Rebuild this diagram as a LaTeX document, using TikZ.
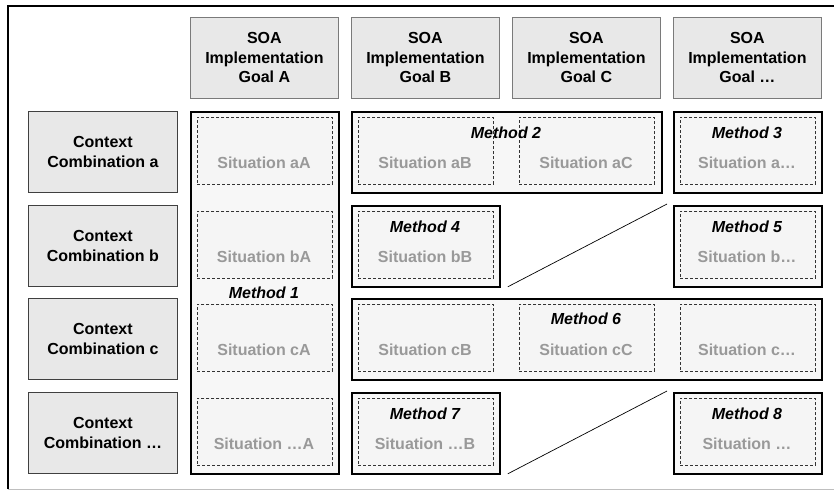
\documentclass[tikz,border=0pt]{standalone}
\usepackage{fontspec}
\setmainfont{Liberation Sans}
\definecolor{hfill}{HTML}{E8E8E8}
\definecolor{mfill}{HTML}{F7F7F7}
\definecolor{sfill}{HTML}{F5F5F5}
\definecolor{stxt}{HTML}{999999}
\definecolor{hdraw}{HTML}{7A7A7A}
\newcommand{\mysit}[4]{%
  \node[sitbox] (#1) at (#2+7,#3+6) {};
  \node[sittext] (#1t) at (#2+74,#3+52) {#4};
}
\begin{document}
\begin{tikzpicture}[x=1pt,y=-1pt,
  basefont/.style={font=\fontsize{16}{19.5}\selectfont\bfseries},
  hdr/.style={basefont, draw=hdraw, line width=0.8pt, fill=hfill, minimum width=148pt, minimum height=81pt, anchor=north west, inner sep=0pt, align=center},
  ctx/.style={hdr, draw=black!75, minimum width=149pt},
  methbox/.style={draw=black, line width=1.8pt, fill=mfill, minimum height=81pt, anchor=north west, inner sep=0pt},
  sitbox/.style={draw=black!80, dash pattern=on 3pt off 2pt, line width=0.8pt, fill=sfill, minimum width=135pt, minimum height=67pt, anchor=north west, inner sep=0pt},
  sittext/.style={basefont, text=stxt, inner sep=0pt},
  mlab/.style={font=\fontsize{16}{19.5}\selectfont\bfseries\itshape, inner sep=0pt},
  diag/.style={draw=black, line width=0.7pt}
]
\useasboundingbox (0,0) rectangle (834,500);
% outer frame
\draw[line width=1.5pt] (8,489) -- (8,6) -- (834,6);
\draw[line width=1pt, black!25] (8,489) -- (834,489);

% column headers
\node[hdr] (gA) at (190,17) {SOA\\Implementation\\Goal A};
\node[hdr] (gB) at (351,17) {SOA\\Implementation\\Goal B};
\node[hdr] (gC) at (512,17) {SOA\\Implementation\\Goal C};
\node[hdr] (gD) at (673,17) {SOA\\Implementation\\Goal …};

% row headers
\node[ctx] (ca) at (28,111) {Context\\Combination a};
\node[ctx] (cb) at (28,205) {Context\\Combination b};
\node[ctx] (cc) at (28,298) {Context\\Combination c};
\node[ctx] (cd) at (28,392) {Context\\Combination …};

% method boxes
\node[methbox, minimum width=148pt, minimum height=362pt] (m1) at (190,111) {};
\node[methbox, minimum width=310pt] (m2) at (351,111) {};
\node[methbox, minimum width=148pt] (m3) at (673,111) {};
\node[methbox, minimum width=148pt] (m4) at (351,205) {};
\node[methbox, minimum width=148pt] (m5) at (673,205) {};
\node[methbox, minimum width=470pt] (m6) at (351,298) {};
\node[methbox, minimum width=148pt] (m7) at (351,392) {};
\node[methbox, minimum width=148pt] (m8) at (673,392) {};

% situations
\mysit{saA}{190}{111}{Situation aA}
\mysit{saB}{351}{111}{Situation aB}
\mysit{saC}{512}{111}{Situation aC}
\mysit{saD}{673}{111}{Situation a…}
\mysit{sbA}{190}{205}{Situation bA}
\mysit{sbB}{351}{205}{Situation bB}
\mysit{sbD}{673}{205}{Situation b…}
\mysit{scA}{190}{298}{Situation cA}
\mysit{scB}{351}{298}{Situation cB}
\mysit{scC}{512}{298}{Situation cC}
\mysit{scD}{673}{298}{Situation c…}
\mysit{sdA}{190}{392}{Situation …A}
\mysit{sdB}{351}{392}{Situation …B}
\mysit{sdD}{673}{392}{Situation …}

% method labels
\node[mlab] (l1) at (264,293) {Method 1};
\node[mlab] (l2) at (506,133) {Method 2};
\node[mlab] (l3) at (747,133) {Method 3};
\node[mlab] (l4) at (425,227) {Method 4};
\node[mlab] (l5) at (747,227) {Method 5};
\node[mlab] (l6) at (586,319) {Method 6};
\node[mlab] (l7) at (425,414) {Method 7};
\node[mlab] (l8) at (747,414) {Method 8};

% diagonal lines
\coordinate (d1s) at ([xshift=7pt,yshift=1pt]m4.south east);
\coordinate (d1e) at ([xshift=-6pt,yshift=1pt]m5.north west);
\coordinate (d2s) at ([xshift=7pt,yshift=1pt]m7.south east);
\coordinate (d2e) at ([xshift=-6pt,yshift=1pt]m8.north west);
\draw[diag] (d1s) -- (d1e);
\draw[diag] (d2s) -- (d2e);
\end{tikzpicture}
\end{document}
